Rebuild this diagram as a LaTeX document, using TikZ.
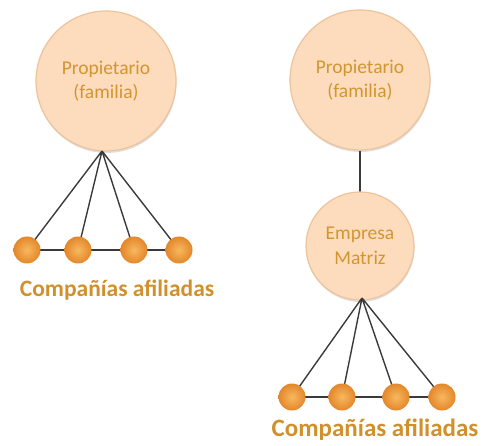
\documentclass[tikz,border=0pt]{standalone}
\usepackage{fontspec}
\setmainfont{Carlito}
\usetikzlibrary{shadows}
\definecolor{bigfill}{HTML}{FCDCBD}
\definecolor{bigedge}{HTML}{EDC39B}
\definecolor{intext}{HTML}{D3952F}
\definecolor{labtext}{HTML}{D0902C}
\definecolor{ballin}{HTML}{F8B85E}
\definecolor{ballout}{HTML}{E3872C}
\definecolor{linec}{HTML}{3A3A3A}
\tikzset{
  bigcircle/.style={circle, fill=bigfill, draw=bigedge, line width=1.2pt,
    drop shadow={shadow xshift=0.5pt, shadow yshift=-2pt, opacity=0.25},
    inner sep=0pt, align=center, text=intext, font=\fontsize{19.5}{24.5}\selectfont},
  ball/.style={circle, inner sep=0pt, minimum size=27pt, inner color=ballin, outer color=ballout},
  conn/.style={draw=linec, line width=1.4pt},
  lab/.style={text=labtext, font=\bfseries\fontsize{#1}{#1}\selectfont},
}
\begin{document}
\begin{tikzpicture}[x=1pt,y=-1pt]
\useasboundingbox (0,0) rectangle (482,446);
% left tree
\node[bigcircle, minimum size=140pt] (pl) at (106,81) {Propietario\\(familia)};
\coordinate (al) at (102,151);
\coordinate (b1c) at (27,250);
\coordinate (b2c) at (78,250);
\coordinate (b3c) at (134,250);
\coordinate (b4c) at (179,250);
\draw[conn] (al) -- (b1c) (al) -- (b2c) (al) -- (b3c) (al) -- (b4c);
\draw[conn] (b1c) -- (b4c);
\node[ball] (b1) at (b1c) {};
\node[ball] (b2) at (b2c) {};
\node[ball] (b3) at (b3c) {};
\node[ball] (b4) at (b4c) {};
\node[lab=23.5] (ll) at (117,290) {Compañías afiliadas};
% right tree
\node[bigcircle, minimum size=140pt] (pr) at (360,80) {Propietario\\(familia)};
\coordinate (emtop) at (360,192);
\draw[conn, line width=1.2pt] (pr.south) -- (emtop);
\node[bigcircle, minimum size=108pt] (em) at (360,246) {Empresa\\Matriz};
\coordinate (ar) at (362,298);
\coordinate (c1c) at (292,397);
\coordinate (c2c) at (342,397);
\coordinate (c3c) at (396,397);
\coordinate (c4c) at (442,397);
\draw[conn] (ar) -- (c1c) (ar) -- (c2c) (ar) -- (c3c) (ar) -- (c4c);
\draw[conn] (c1c) -- (c4c);
\node[ball] (c1) at (c1c) {};
\node[ball] (c2) at (c2c) {};
\node[ball] (c3) at (c3c) {};
\node[ball] (c4) at (c4c) {};
\node[lab=25] (lr) at (375,430) {Compañías afiliadas};
\end{tikzpicture}
\end{document}
